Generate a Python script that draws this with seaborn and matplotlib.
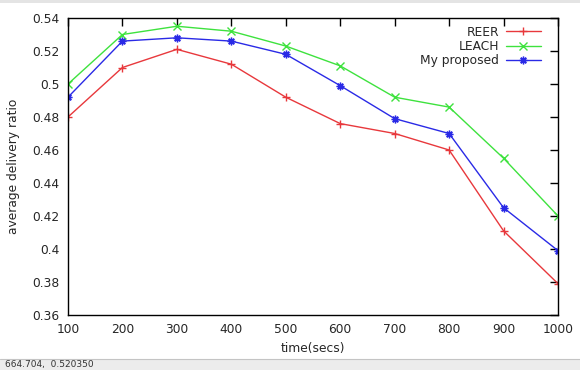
import matplotlib
matplotlib.use("Agg")
import matplotlib.pyplot as plt
import pandas as pd
import seaborn as sns
from matplotlib.patches import Rectangle
from matplotlib.lines import Line2D

# data
time_secs = [100, 200, 300, 400, 500, 600, 700, 800, 900, 1000]
reer = [0.480, 0.510, 0.521, 0.512, 0.492, 0.476, 0.470, 0.460, 0.411, 0.379]
leach = [0.500, 0.530, 0.535, 0.532, 0.523, 0.511, 0.492, 0.486, 0.455, 0.420]
my_proposed = [0.492, 0.526, 0.528, 0.526, 0.518, 0.499, 0.479, 0.470, 0.425, 0.399]

series_names = ["REER", "LEACH", "My proposed"]
y_ticks = [0.36, 0.38, 0.4, 0.42, 0.44, 0.46, 0.48, 0.5, 0.52, 0.54]
y_tick_labels = ["0.36", "0.38", "0.4", "0.42", "0.44", "0.46", "0.48", "0.5", "0.52", "0.54"]

df = pd.DataFrame({
    "time": time_secs * 3,
    "ratio": reer + leach + my_proposed,
    "serie": [n for n in series_names for _ in time_secs],
})

colores = {"REER": "#e8383c", "LEACH": "#3ee23e", "My proposed": "#2a2ae6"}
marcadores = {"REER": "+", "LEACH": "x", "My proposed": (8, 2, 0)}
FS = 8.8
MS = 5.5

sns.set_style("white")
plt.rcParams["font.family"] = ["DejaVu Sans"]

W, H = 580, 370
fig = plt.figure(figsize=(W / 100, H / 100), dpi=100)
ax = fig.add_axes([68 / W, 1 - 315 / H, 490 / W, 297 / H])

sns.lineplot(
    data=df, x="time", y="ratio", hue="serie", style="serie",
    hue_order=series_names, style_order=series_names,
    palette=colores, markers=marcadores, dashes=False,
    markersize=MS, markeredgewidth=1.0, linewidth=1.0,
    legend=False, ax=ax,
)
for ln, n in zip(ax.lines, series_names):
    ln.set_markeredgecolor(colores[n])

ax.set_xlim(100, 1000)
ax.set_ylim(0.36, 0.54)
ax.set_xticks(time_secs)
ax.set_yticks(y_ticks)
ax.set_yticklabels(y_tick_labels)
ax.tick_params(direction="in", length=5.5, width=1, color="black",
               top=True, right=True, labelsize=FS, pad=6)
for s in ax.spines.values():
    s.set_color("black")
    s.set_linewidth(1.0)
ax.set_xlabel("time(secs)", fontsize=FS, labelpad=4)
ax.set_ylabel("average delivery ratio", fontsize=FS, labelpad=9)

handles = [
    Line2D([], [], color=colores[n], marker=marcadores[n], markersize=MS,
           markeredgewidth=1.0, markeredgecolor=colores[n], linewidth=1.0)
    for n in series_names
]
ax.legend(handles, series_names, loc="upper right", bbox_to_anchor=(0.978, 0.995),
          markerfirst=False, frameon=False, fontsize=FS, handlelength=2.9,
          handletextpad=0.55, labelspacing=0.1, borderpad=0.0)

# window chrome: top strip and status bar
fig.patches.append(Rectangle((0, 1 - 3 / H), 1, 3 / H, transform=fig.transFigure,
                             facecolor="#e4e4e4", edgecolor="none", zorder=0))
fig.patches.append(Rectangle((0, 0), 1, 11 / H, transform=fig.transFigure,
                             facecolor="#ececec", edgecolor="none", zorder=0))
fig.lines.append(Line2D([0, 1], [11 / H, 11 / H], transform=fig.transFigure,
                        color="#c4c4c4", linewidth=0.8))
fig.text(5 / W, 5.5 / H, "664.704,  0.520350", fontsize=6.5, va="center",
         ha="left", color="#333333")

fig.savefig("out.png", dpi=100)
